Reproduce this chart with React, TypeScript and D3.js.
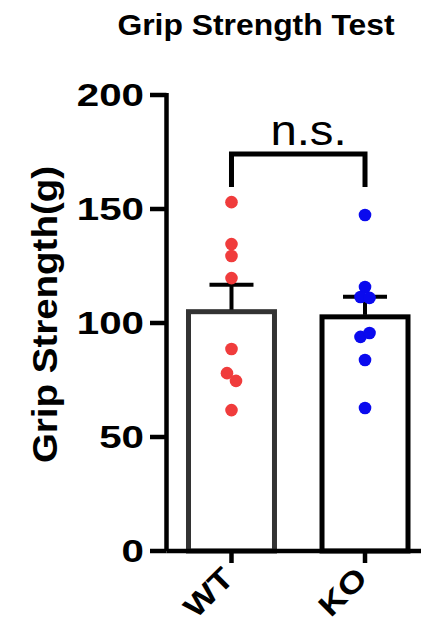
import React from "react";
import * as d3 from "d3";

const groups = ["WT", "KO"];
const wtValues = [153, 134.6, 129.4, 119.7, 88.6, 78, 74.6, 61.8];
const koValues = [147.4, 115.8, 111.4, 111, 93.9, 95.6, 83.8, 62.7];
const yTicks = [0, 50, 100, 150, 200];
const groupColors = ["#F03C3C", "#0A0AEE"];
const barStrokes = ["#333333", "#000000"];
const title = "Grip Strength Test";
const yLabel = "Grip Strength(g)";
const sigLabel = "n.s.";

const W = 431;
const H = 627;
const FONT = "'Liberation Sans', Arial, Helvetica, sans-serif";

export default function App() {
  const series = [wtValues, koValues];
  const y = d3.scaleLinear().domain([0, 200]).range([551, 95]);
  const x = d3
    .scaleBand<string>()
    .domain(groups)
    .range([166, 430.5])
    .paddingInner(0.356)
    .paddingOuter(0.1685);
  const bw = x.bandwidth();
  const r = 6.3;

  const stats = series.map((vals) => {
    const m = d3.mean(vals) as number;
    const sd = d3.deviation(vals) as number;
    return { mean: m, sem: sd / Math.sqrt(vals.length) };
  });

  // dodge overlapping points
  const points = series.map((vals, gi) => {
    const cx = (x(groups[gi]) as number) + bw / 2;
    const pts = vals.map((v) => ({ v, py: y(v), px: cx }));
    for (let i = 1; i < pts.length; i++) {
      if (Math.abs(pts[i].py - pts[i - 1].py) < 9) {
        pts[i - 1].px = cx - 4.5;
        pts[i].px = cx + 4.5;
      }
    }
    return pts;
  });

  const c0 = (x(groups[0]) as number) + bw / 2;
  const c1 = (x(groups[1]) as number) + bw / 2;
  const brY = 154;
  const brBottom = 187;

  return (
    <svg
      width={W}
      height={H}
      style={{ position: "absolute", left: 0, top: 0, background: "#fff" }}
      fontFamily={FONT}
    >
      <rect x={0} y={0} width={W} height={H} fill="#fff" />
      {/* title */}
      <text
        transform={`translate(256,35) scale(1.08,1)`}
        textAnchor="middle"
        fontWeight="bold"
        fontSize={29.5}
        fill="#000"
      >
        {title}
      </text>

      {/* bars */}
      {groups.map((g, gi) => (
        <rect
          key={g}
          x={x(g) as number}
          y={y(stats[gi].mean)}
          width={bw}
          height={y(0) - y(stats[gi].mean)}
          fill="#fff"
          stroke={barStrokes[gi]}
          strokeWidth={5}
        />
      ))}

      {/* error bars */}
      {groups.map((g, gi) => {
        const cx = (x(g) as number) + bw / 2;
        const top = y(stats[gi].mean + stats[gi].sem);
        return (
          <g key={g} stroke="#000" strokeWidth={4}>
            <line x1={cx} x2={cx} y1={y(stats[gi].mean) - 2} y2={top} />
            <line x1={cx - 22} x2={cx + 22} y1={top} y2={top} />
          </g>
        );
      })}

      {/* points */}
      {points.map((pts, gi) =>
        pts.map((p, i) => (
          <circle key={`${gi}-${i}`} cx={p.px} cy={p.py} r={r} fill={groupColors[gi]} />
        ))
      )}

      {/* axes */}
      <g stroke="#000" strokeWidth={4.5} fill="none">
        <path d={`M${166.5},${y(200) - 2}V${y(0)}`} />
        <path d={`M${166.5},${y(0)}H${421}`} />
        {yTicks.map((t) => (
          <line key={t} x1={150} x2={166.5} y1={y(t)} y2={y(t)} />
        ))}
        {groups.map((g) => {
          const cx = (x(g) as number) + bw / 2;
          return <line key={g} x1={cx} x2={cx} y1={y(0)} y2={y(0) + 12} />;
        })}
      </g>

      {/* y tick labels */}
      {yTicks.map((t) => (
        <text
          key={t}
          transform={`translate(144,${y(t)}) scale(1.28,1)`}
          textAnchor="end"
          dy="0.36em"
          fontWeight="bold"
          fontSize={31.5}
          fill="#000"
        >
          {t}
        </text>
      ))}

      {/* x tick labels */}
      {groups.map((g) => {
        const cx = (x(g) as number) + bw / 2;
        return (
          <text
            key={g}
            transform={`translate(${cx + 4},580) rotate(-45) scale(1.2,1)`}
            textAnchor="end"
            fontWeight="bold"
            fontSize={30}
            fill="#000"
          >
            {g}
          </text>
        );
      })}

      {/* y label */}
      <text
        transform={`translate(57,314.5) rotate(-90) scale(1.1,1)`}
        textAnchor="middle"
        fontWeight="bold"
        fontSize={35}
        fill="#000"
      >
        {yLabel}
      </text>

      {/* significance bracket */}
      <path
        d={`M${c0},${brBottom}V${brY}H${c1}V${brBottom}`}
        stroke="#000"
        strokeWidth={5}
        fill="none"
      />
      <text
        transform={`translate(308.5,145) scale(1.1,1)`}
        textAnchor="middle"
        fontSize={43}
        fill="#000"
      >
        {sigLabel}
      </text>
    </svg>
  );
}
